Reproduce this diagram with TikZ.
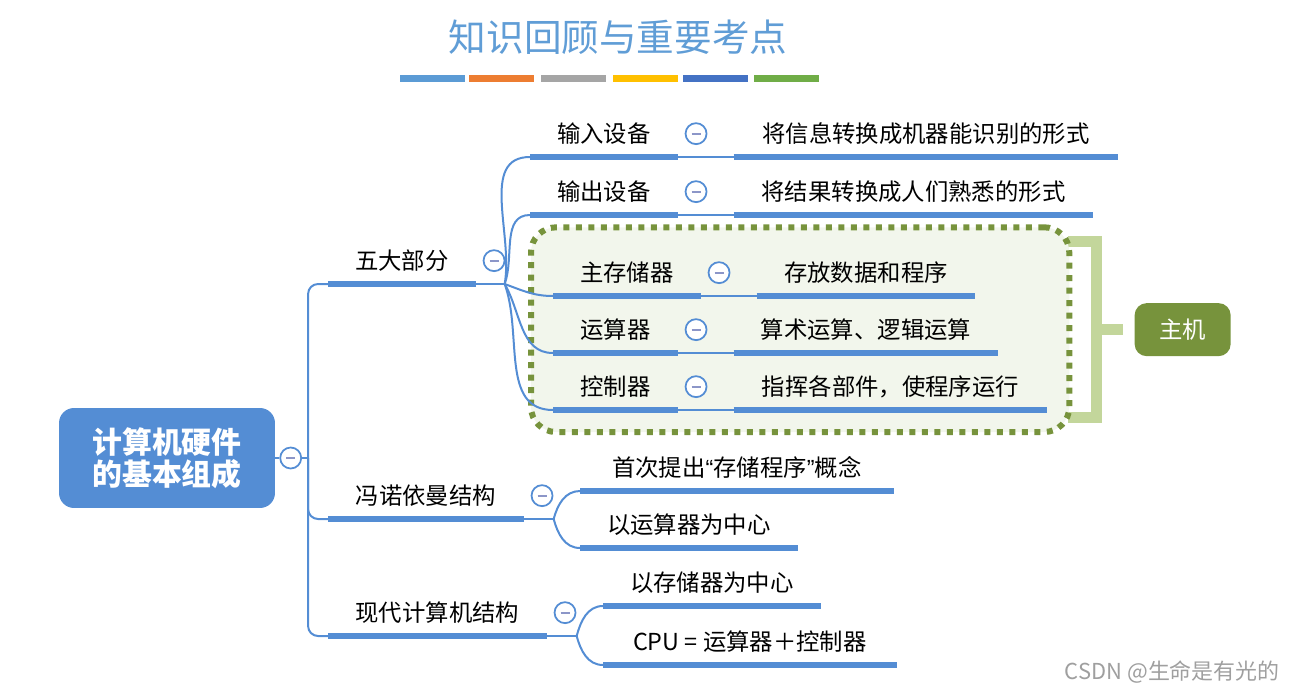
\documentclass[tikz,border=0pt]{standalone}
\usepackage{fontspec}
\setmainfont{Noto Sans CJK SC}
\newfontfamily\quotefont{Liberation Sans}
\usetikzlibrary{positioning,fit,backgrounds}

\pgfdeclarelayer{bottom}
\pgfsetlayers{bottom,background,main}

\definecolor{lineblue}{RGB}{84,141,212}
\definecolor{foldgray}{RGB}{140,150,200}
\definecolor{titleblue}{RGB}{96,157,214}
\definecolor{hostgreen}{RGB}{119,147,60}
\definecolor{hostfill}{RGB}{242,246,236}
\definecolor{bracegreen}{RGB}{195,214,155}
\definecolor{bar1}{RGB}{91,155,213}
\definecolor{bar2}{RGB}{237,125,49}
\definecolor{bar3}{RGB}{165,165,165}
\definecolor{bar4}{RGB}{255,192,0}
\definecolor{bar5}{RGB}{68,114,196}
\definecolor{bar6}{RGB}{112,173,71}

\tikzset{
  topic/.style={anchor=south west, inner sep=0pt, minimum height=0.92cm,
    font=\fontsize{13.3}{16}\selectfont},
  uline/.style={lineblue, line width=0.11cm},
  link/.style={lineblue, line width=0.04cm},
  fold/.style={circle, draw=lineblue, line width=0.035cm, fill=white,
    minimum size=0.42cm, inner sep=0pt,
    path picture={\draw[foldgray, line width=0.04cm]
      ([xshift=-0.09cm]path picture bounding box.center) --
      ([xshift=0.09cm]path picture bounding box.center);}},
  hostline/.style={draw=hostgreen, fill=hostfill, line width=0.12cm,
    dash pattern=on 0.12cm off 0.13cm, rounded corners=0.5cm},
  brace/.style={bracegreen, line width=0.22cm},
}

\begin{document}
\begin{tikzpicture}[x=0.02cm, y=-0.02cm]
  \useasboundingbox (0,0) rectangle (1298,693);

  % title
  \node[text=titleblue, font=\fontsize{21.4}{24}\selectfont] (title) at (618,37) {知识回顾与重要考点};
  \foreach \x/\c in {400/bar1,469/bar2,541/bar3,613/bar4,683/bar5,754/bar6}
    \fill[\c] (\x,75) rectangle ++(65,7);

  % root
  \node[fill=lineblue, rounded corners=0.3cm, minimum width=4.32cm, minimum height=2cm,
    text=white, align=center, font=\fontsize{17}{18.2}\selectfont\bfseries] (root) at (167,458)
    {计算机硬件\\的基本组成};

  % first level
  \node[topic, minimum width=2.94cm] (wd) at (328,284) {五大部分};
  \node[topic, minimum width=3.9cm] (fn) at (328,519) {冯诺依曼结构};
  \node[topic, minimum width=4.36cm] (xd) at (328,636) {现代计算机结构};

  % five parts
  \node[topic, minimum width=2.94cm] (in) at (530,157) {输入设备};
  \node[topic, minimum width=2.94cm] (out) at (530,215) {输出设备};
  \node[topic, minimum width=2.94cm] (mem) at (553,296) {主存储器};
  \node[topic, minimum width=2.48cm] (alu) at (553,353) {运算器};
  \node[topic, minimum width=2.48cm] (cu) at (553,410) {控制器};

  \node[topic, minimum width=7.68cm, right=1.12cm of in] (inD) {将信息转换成机器能识别的形式};
  \node[topic, minimum width=7.18cm, right=1.12cm of out] (outD) {将结果转换成人们熟悉的形式};
  \node[topic, minimum width=4.36cm, right=1.12cm of mem] (memD) {存放数据和程序};
  \node[topic, minimum width=5.28cm, right=1.12cm of alu] (aluD) {算术运算、逻辑运算};
  \node[topic, minimum width=6.26cm, right=1.12cm of cu] (cuD) {指挥各部件，使程序运行};

  % von neumann, modern
  \node[topic, minimum width=6.26cm] (fn1) at (580,491) {首次提出{\quotefont “}存储程序{\quotefont ”}概念};
  \node[topic, minimum width=4.34cm] (fn2) at (580,548) {以运算器为中心};
  \node[topic, minimum width=4.34cm] (xd1) at (603,606) {以存储器为中心};
  \node[topic, minimum width=5.86cm] (xd2) at (603,665) {CPU = 运算器＋控制器};

  % host box
  \begin{pgfonlayer}{background}
    \node[hostline, fit=(mem)(memD)(aluD)(cuD), inner sep=0.44cm] (hostbox) {};
  \end{pgfonlayer}
  \node[fill=hostgreen, rounded corners=0.24cm, minimum width=1.92cm, minimum height=1.06cm,
    text=white, font=\fontsize{13.3}{16}\selectfont, right=1.24cm of hostbox] (host) {主机};
  \begin{pgfonlayer}{bottom}
    \draw[brace] ([xshift=-0.08cm,yshift=-0.34cm]hostbox.north east) -- ++(28,0)
      |- ([xshift=-0.08cm,yshift=0.36cm]hostbox.south east);
    \draw[brace] ([xshift=0.48cm]hostbox.east) -- ([xshift=-0.22cm]host.west);
  \end{pgfonlayer}

  % underlines
  \foreach \n in {wd,fn,xd,in,out,mem,alu,cu,inD,outD,memD,aluD,cuD,fn1,fn2,xd1,xd2}
    \draw[uline] (\n.south west) -- (\n.south east);

  % links
  \node[fold, right=0.08cm of root] (root-fold) {};
  \coordinate (trunk) at ([xshift=0.12cm]root-fold.east);
  \draw[link] (root.east) -- (root-fold.west);
  \draw[link] (root-fold.east) -- (trunk);
  \foreach \c in {wd,fn,xd}
    \draw[link, rounded corners=0.2cm] (trunk) |- (\c.south west);

  \coordinate (wdfork) at ([xshift=0.58cm]wd.south east);
  \draw[link] (wd.south east) -- (wdfork);
  \foreach \c/\o in {in/80,out/70,mem/-20,alu/-60,cu/-70}
    \draw[link] (wdfork) to[out=\o, in=180] (\c.south west);
  \foreach \a/\b in {in/inD,out/outD,mem/memD,alu/aluD,cu/cuD}
    \draw[link] (\a.south east) -- (\b.south west);

  \coordinate (fnfork) at ([xshift=0.6cm]fn.south east);
  \draw[link] (fn.south east) -- (fnfork);
  \draw[link] (fnfork) to[out=75, in=180] (fn1.south west);
  \draw[link] (fnfork) to[out=-75, in=180] (fn2.south west);

  \coordinate (xdfork) at ([xshift=0.6cm]xd.south east);
  \draw[link] (xd.south east) -- (xdfork);
  \draw[link] (xdfork) to[out=75, in=180] (xd1.south west);
  \draw[link] (xdfork) to[out=-75, in=180] (xd2.south west);

  % fold buttons
  \foreach \n in {wd,fn,xd,in,out,mem,alu,cu}
    \node[fold, right=0.14cm of \n] (\n-fold) {};

  % watermark
  \node[text=gray!75, font=\fontsize{12.5}{14}\selectfont, anchor=east] (mark) at (1286,672)
    {CSDN @生命是有光的};
\end{tikzpicture}
\end{document}
